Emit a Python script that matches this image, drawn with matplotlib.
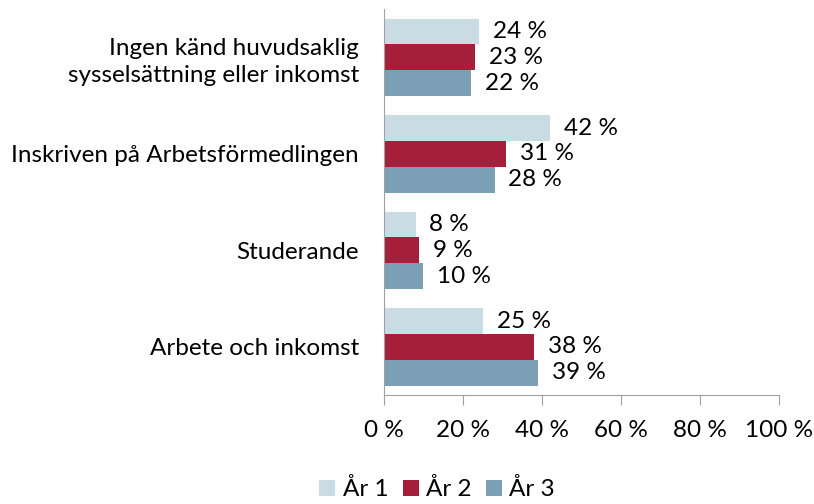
import matplotlib.pyplot as plt
import numpy as np

plt.rcParams['font.family'] = ['Lato', 'DejaVu Sans']

categories = ['Ingen känd huvudsaklig\nsysselsättning eller inkomst',
              'Inskriven på Arbetsförmedlingen',
              'Studerande',
              'Arbete och inkomst']
years = ['År 1', 'År 2', 'År 3']
ar1 = [24, 42, 8, 25]
ar2 = [23, 31, 9, 38]
ar3 = [22, 28, 10, 39]
colors = ['#C9DBE3', '#A51E3A', '#7B9FB5']

fs = 17.5
fig = plt.figure(figsize=(8.14, 5.04), dpi=100)
ax = fig.add_axes([0.4717, 0.216, 0.485, 0.766])

y = np.arange(len(categories))[::-1].astype(float)
h = 0.267
for i, (vals, lab, c) in enumerate(zip([ar1, ar2, ar3], years, colors)):
    pos = y + h - i * h
    ax.barh(pos, vals, height=h, color=c, label=lab)
    for p, v in zip(pos, vals):
        ax.annotate(f'{v} %', (v, p), xytext=(10, 0), textcoords='offset points',
                    ha='left', va='center', fontsize=fs)

ax.set_xlim(0, 100)
ax.set_ylim(-0.5, 3.5)
ax.set_xticks(np.arange(0, 101, 20))
ax.set_xticklabels([f'{t} %' for t in range(0, 101, 20)], fontsize=fs)
ax.set_yticks(y)
ax.set_yticklabels(categories, fontsize=fs, multialignment='right', linespacing=1.35)
ax.tick_params(axis='y', length=0, pad=18)
ax.tick_params(axis='x', length=7, color='#A0A0A0', pad=11)
for s in ['top', 'right']:
    ax.spines[s].set_visible(False)
for s in ['left', 'bottom']:
    ax.spines[s].set_color('#A0A0A0')

fig.legend(loc='lower center', bbox_to_anchor=(0.537, -0.036), ncol=3, frameon=False,
           fontsize=fs, handlelength=0.65, handleheight=0.65, handletextpad=0.3,
           columnspacing=0.6)

plt.savefig('out.png', dpi=100)
